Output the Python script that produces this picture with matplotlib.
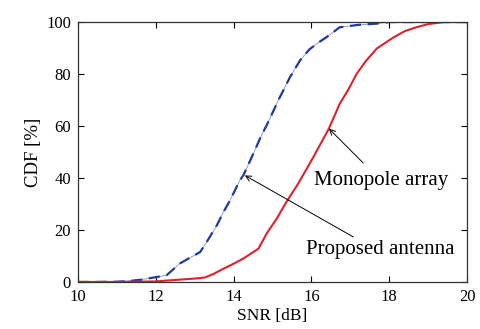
import matplotlib
matplotlib.use("Agg")
import matplotlib.pyplot as plt

plt.rcParams['font.family'] = ['Liberation Serif', 'DejaVu Serif']

# CDF curves (SNR in dB, CDF in %)
mono_snr = [10.0, 10.5, 11.0, 11.25, 11.6, 12.02, 12.28, 12.62, 12.9, 13.14, 13.31,
            13.57, 13.74, 13.91, 14.16, 14.25, 14.47, 14.68, 14.89, 15.15, 15.45,
            15.71, 15.95, 16.2, 16.39, 16.73, 17.2, 17.68, 18.0, 20.0]
mono_cdf = [0.0, 0.0, 0.1, 0.3, 0.8, 1.9, 2.6, 7.1, 9.5, 11.5, 15.4,
            21.8, 26.9, 31.4, 39.1, 41.0, 48.1, 55.2, 61.5, 69.9, 78.8,
            85.3, 89.5, 92.3, 94.2, 98.0, 98.9, 99.4, 100.0, 100.0]

prop_snr = [10.0, 11.0, 12.0, 12.62, 13.0, 13.26, 13.5, 13.74, 14.0, 14.25, 14.64,
            14.85, 15.11, 15.36, 15.66, 16.05, 16.45, 16.73, 16.95, 17.16, 17.4,
            17.68, 18.1, 18.4, 18.7, 19.0, 19.4, 20.0]
prop_cdf = [0.0, 0.0, 0.2, 0.9, 1.3, 1.7, 3.2, 5.1, 7.0, 9.0, 12.8,
            18.6, 24.4, 30.8, 37.8, 48.0, 59.0, 68.6, 74.0, 80.0, 85.0,
            89.8, 94.0, 96.5, 98.0, 99.2, 100.0, 100.0]

fig = plt.figure(figsize=(4.81, 3.29), dpi=100)
ax = fig.add_axes([0.162, 0.143, 0.809, 0.790])

ax.plot(mono_snr, mono_cdf, color='#8090d0', lw=0.6)
ax.plot(mono_snr, mono_cdf, color='#1f3c9e', lw=1.6, dashes=(5, 3))
ax.plot(prop_snr, prop_cdf, color='#e0202c', lw=1.5)

ax.set_xlim(10, 20)
ax.set_ylim(0, 100)
ax.set_xticks(range(10, 21, 2))
ax.set_yticks(range(0, 101, 20))
ax.tick_params(direction='in', labelsize=12, length=4, width=0.8,
               top=True, right=True, pad=5)
for s in ax.spines.values():
    s.set_linewidth(0.9)
    s.set_color('#333333')
ax.set_xlabel('SNR [dB]', fontsize=12.5, labelpad=2)
ax.set_ylabel('CDF [%]', fontsize=13.5, labelpad=3)

arrow = dict(arrowstyle='->', color='black', lw=0.7, shrinkA=0, shrinkB=0)
ax.annotate('', xy=(16.45, 59), xytext=(17.33, 45.8), arrowprops=arrow)
ax.annotate('', xy=(14.29, 41), xytext=(17.08, 17.3), arrowprops=arrow)
ax.text(17.78, 39, 'Monopole array', fontsize=15, ha='center', va='center')
ax.text(17.78, 12.6, 'Proposed antenna', fontsize=15, ha='center', va='center')

fig.savefig('out.png', dpi=100)
